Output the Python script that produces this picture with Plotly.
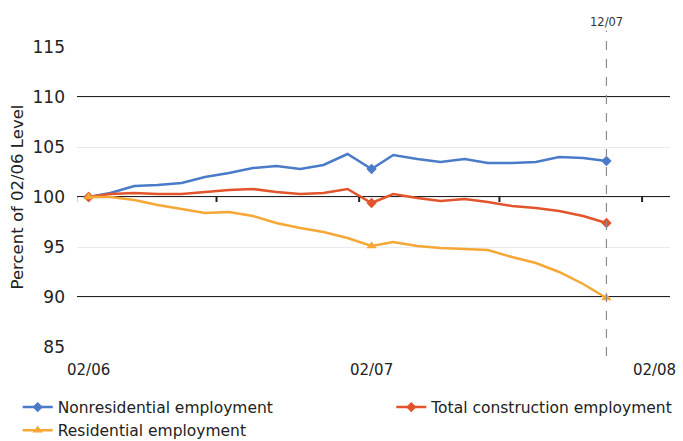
import pandas as pd
import plotly.graph_objects as go

# Monthly index levels (percent of Feb 2006), Feb 2006 .. Dec 2007
months = pd.date_range("2006-02-01", "2007-12-01", freq="MS")

nonresidential = [100.0, 100.4, 101.1, 101.2, 101.4, 102.0, 102.4, 102.9, 103.1, 102.8,
                  103.2, 104.3, 102.8, 104.2, 103.8, 103.5, 103.8, 103.4, 103.4, 103.5,
                  104.0, 103.9, 103.6]
total = [100.0, 100.3, 100.4, 100.3, 100.3, 100.5, 100.7, 100.8, 100.5, 100.3,
         100.4, 100.8, 99.4, 100.3, 99.9, 99.6, 99.8, 99.5, 99.1, 98.9,
         98.6, 98.1, 97.4]
residential = [100.0, 100.0, 99.7, 99.2, 98.8, 98.4, 98.5, 98.1, 97.4, 96.9,
               96.5, 95.9, 95.1, 95.5, 95.1, 94.9, 94.8, 94.7, 94.0, 93.4,
               92.5, 91.3, 89.9]

series_names = ["Nonresidential employment", "Total construction employment",
                "Residential employment"]
series_values = [nonresidential, total, residential]
series_colors = ["#4A7BC8", "#E2542B", "#F6A735"]
series_symbols = ["diamond", "diamond", "triangle-up"]
series_sizes = [8, 8, 9]
series_legends = ["legend", "legend2", "legend"]

# points that carry a marker: first month, Feb 2007, last month
marked_points = [0, 12, 22]

y_ticks = [85, 90, 95, 100, 105, 110, 115]
heavy_lines = [90, 100, 110]
x_label_dates = ["2006-02-01", "2007-02-01", "2008-02-01"]
x_label_text = ["02/06", "02/07", "02/08"]
x_tick_marks = ["2006-01-16", "2006-07-16", "2007-01-16", "2007-07-16", "2008-01-16"]
marker_label = "12/07"

FONT = "DejaVu Sans"

fig = go.Figure()
for name, vals, color, sym, size, lg in zip(series_names, series_values, series_colors,
                                            series_symbols, series_sizes, series_legends):
    fig.add_trace(go.Scatter(
        x=months, y=vals, name=name, mode="lines+markers", legend=lg,
        line=dict(color=color, width=2.5),
        marker=dict(symbol=sym, size=size, color=color),
        selectedpoints=marked_points,
        unselected=dict(marker=dict(opacity=0)),
    ))

# heavy horizontal rules
for yv in heavy_lines:
    fig.add_shape(type="line", xref="paper", yref="y", x0=0, x1=1, y0=yv, y1=yv,
                  line=dict(color="#222222", width=2), layer="below")

# tick marks on the 100 baseline
for d in x_tick_marks:
    fig.add_shape(type="line", xref="x", yref="y", x0=d, x1=d, y0=100, y1=99.5,
                  line=dict(color="#222222", width=2))

# dashed vertical reference at last month
last = months[-1]
fig.add_shape(type="line", xref="x", yref="paper", x0=last, x1=last, y0=-0.03, y1=1.055,
              line=dict(color="#8C8C8C", width=1.2, dash="dash"))
fig.add_annotation(x=last, y=1.055, xref="x", yref="paper", text=marker_label,
                   showarrow=False, yanchor="bottom",
                   font=dict(family=FONT, size=11.5, color="#333333"))

legend_common = dict(
    orientation="v", xanchor="left", yanchor="top", itemwidth=30,
    font=dict(family=FONT, size=15.5, color="#222222"),
    tracegroupgap=0, bgcolor="rgba(0,0,0,0)",
)

fig.update_layout(
    width=683, height=441,
    margin=dict(l=77, r=13, t=47, b=94, autoexpand=False),
    paper_bgcolor="white", plot_bgcolor="white",
    font=dict(family=FONT, color="#333333"),
    xaxis=dict(
        range=["2006-01-17", "2008-02-21"],
        tickvals=x_label_dates, ticktext=x_label_text,
        showgrid=False, showline=False, zeroline=False, ticks="",
        ticklabelstandoff=12,
        tickfont=dict(family=FONT, size=15, color="#222222"),
    ),
    yaxis=dict(
        range=[85, 115], tickvals=y_ticks,
        showgrid=True, gridcolor="#EBEBEB", gridwidth=1,
        zeroline=False, showline=False, ticks="",
        ticklabelstandoff=11,
        tickfont=dict(family=FONT, size=17, color="#222222"),
        title=dict(text="Percent of 02/06 Level",
                   font=dict(family=FONT, size=16.5, color="#222222"), standoff=4),
    ),
    showlegend=True,
    legend=dict(x=-0.1, y=-0.145, **legend_common),
    legend2=dict(x=0.53, y=-0.145, **legend_common),
)

fig.write_html("out.html")
